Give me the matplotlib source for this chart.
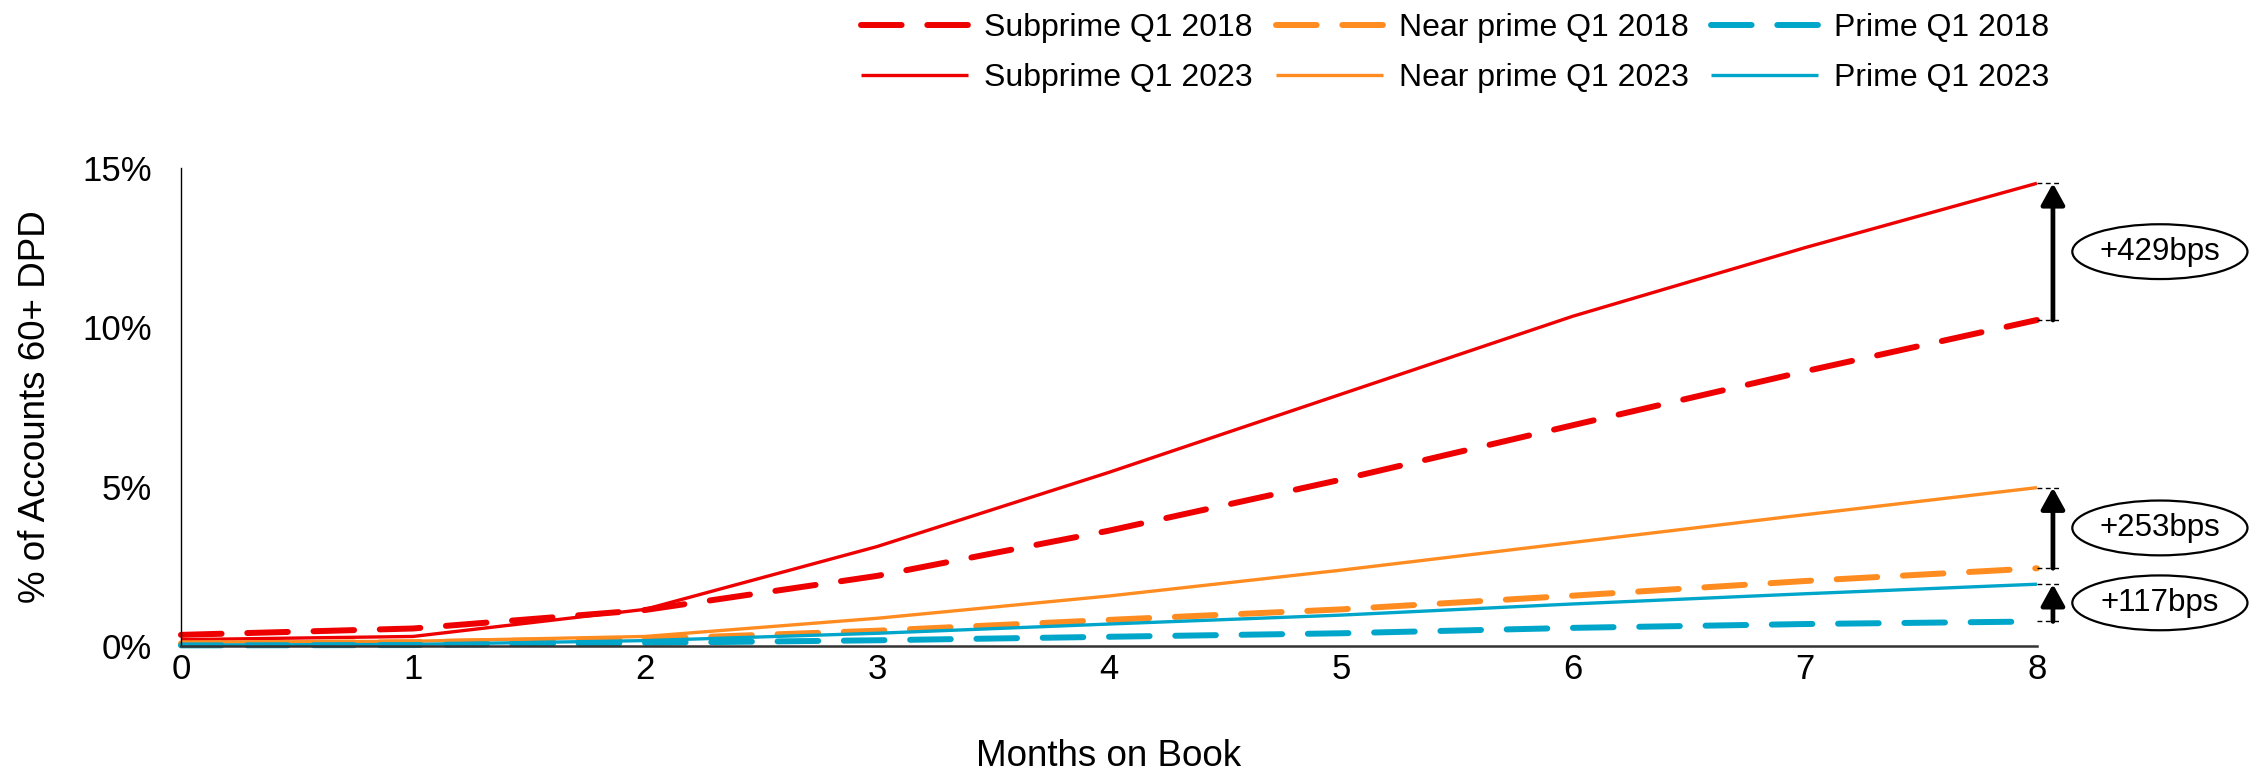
import matplotlib
matplotlib.use("Agg")
import matplotlib.pyplot as plt
from matplotlib.patches import Ellipse

plt.rcParams["font.family"] = ["Liberation Sans", "DejaVu Sans"]

# Months on book
months = [0, 1, 2, 3, 4, 5, 6, 7, 8]

# Share of accounts 60+ days past due (%)
subprime_2018 = [0.35, 0.55, 1.13, 2.20, 3.62, 5.22, 6.93, 8.62, 10.23]
subprime_2023 = [0.20, 0.30, 1.15, 3.12, 5.45, 7.90, 10.35, 12.50, 14.52]
nearprime_2018 = [0.08, 0.12, 0.22, 0.48, 0.82, 1.15, 1.58, 2.04, 2.44]
nearprime_2023 = [0.12, 0.15, 0.30, 0.87, 1.57, 2.38, 3.25, 4.12, 4.97]
prime_2018 = [0.02, 0.03, 0.10, 0.18, 0.29, 0.40, 0.57, 0.69, 0.77]
prime_2023 = [0.03, 0.05, 0.17, 0.40, 0.69, 0.97, 1.32, 1.64, 1.94]

series_labels = ["Subprime Q1 2018", "Subprime Q1 2023",
                 "Near prime Q1 2018", "Near prime Q1 2023",
                 "Prime Q1 2018", "Prime Q1 2023"]
gap_labels = ["+429bps", "+253bps", "+117bps"]

y_ticks = [0, 5, 10, 15]
y_tick_labels = ["0%", "5%", "10%", "15%"]

RED = "#EE0000"
ORANGE = "#FF8C21"
BLUE = "#00A6CA"

fig = plt.figure(figsize=(22.62, 7.71), dpi=100)
ax = fig.add_axes([0.0800, 0.1621, 0.8205, 0.6200])

dash_kw = dict(lw=4.3, linestyle=(0, (6.8, 4.3)), dash_capstyle="round",
               solid_capstyle="round", clip_on=False)
solid_kw = dict(lw=2.4, linestyle="-", solid_capstyle="butt", clip_on=False)

pairs = [
    (subprime_2018, subprime_2023, RED),
    (nearprime_2018, nearprime_2023, ORANGE),
    (prime_2018, prime_2023, BLUE),
]

handles = []
for old, new, color in pairs:
    h_old, = ax.plot(months, old, color=color, **dash_kw)
    h_new, = ax.plot(months, new, color=color, **solid_kw)
    handles += [h_old, h_new]

ax.set_xlim(0, 8)
ax.set_ylim(0, 15)
ax.set_xticks(months)
ax.set_yticks(y_ticks)
ax.set_yticklabels(y_tick_labels)
ax.tick_params(axis="both", length=0, labelsize=25)
ax.tick_params(axis="x", pad=5)
ax.tick_params(axis="y", pad=21)

for side in ("top", "right"):
    ax.spines[side].set_visible(False)
ax.spines["left"].set_color("black")
ax.spines["left"].set_linewidth(1.0)
ax.spines["bottom"].set_color("#333333")
ax.spines["bottom"].set_linewidth(1.8)

ax.set_xlabel("Months on Book", fontsize=26.5, labelpad=38)
ax.set_ylabel("% of Accounts 60+ DPD", fontsize=26.5, labelpad=21)

# Gap arrows between the 2018 and 2023 cohorts at month 8
last = months[-1]
arrow_x = last + 0.069
for (old, new, _), text in zip(pairs, gap_labels):
    lo, hi = old[-1], new[-1]
    for v in (lo, hi):
        ax.plot([last, last + 0.108], [v, v], color="black", lw=1.0,
                linestyle=(0, (3.5, 2.5)), clip_on=False, zorder=4)
    ax.annotate("", xy=(arrow_x, hi), xytext=(arrow_x, lo),
                arrowprops=dict(arrowstyle="-|>,head_length=0.65,head_width=0.36",
                                lw=3.4, color="black", mutation_scale=20,
                                shrinkA=0, shrinkB=0),
                annotation_clip=False, zorder=5)
    mid = (lo + hi) / 2
    ax.add_patch(Ellipse((last + 0.53, mid), width=0.755, height=1.72,
                         facecolor="white", edgecolor="black", lw=1.6,
                         clip_on=False, zorder=5))
    ax.text(last + 0.53, mid, text, ha="center", va="center",
            fontsize=22.5, zorder=6)

fig.legend(handles, series_labels, ncol=3, frameon=False,
           loc="upper right", bbox_to_anchor=(0.916, 1.012),
           fontsize=23, handlelength=3.35, handletextpad=0.5,
           columnspacing=0.72, labelspacing=0.62, borderaxespad=0.3)

fig.savefig("out.png", dpi=100)
